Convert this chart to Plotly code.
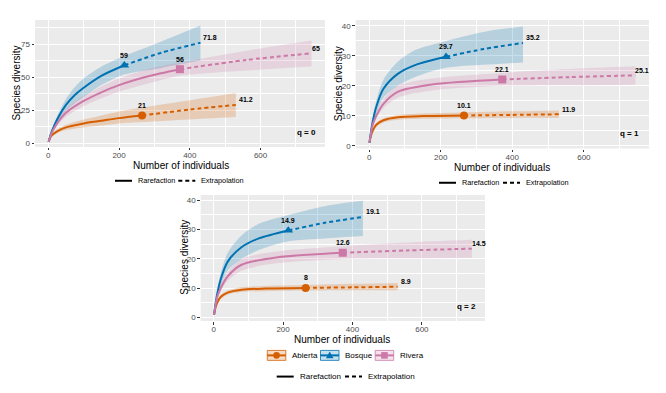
import plotly.graph_objects as go

W, H = 666, 393

groups = ["Abierta", "Bosque", "Rivera"]
colors = {"Abierta": "#D55E00", "Bosque": "#0072B2", "Rivera": "#CC79A7"}
band_colors = {"Abierta": "rgba(213,94,0,0.22)", "Bosque": "rgba(0,114,178,0.22)",
               "Rivera": "rgba(204,121,167,0.22)"}
symbols = {"Abierta": "circle", "Bosque": "triangle-up", "Rivera": "square"}

# ---------------- q = 0 ----------------
q0_abierta_rare_x = [1, 5, 10, 25, 50, 100, 150, 200, 265]
q0_abierta_rare_y = [1, 4, 6, 9, 12, 15, 17, 19, 21]
q0_abierta_ext_x = [265, 400, 530]
q0_abierta_ext_y = [21, 25.5, 29]
q0_abierta_lo = [1, 3.5, 5, 7.5, 10, 12, 13.5, 15, 16, 18, 19.8]
q0_abierta_hi = [1, 4.5, 7, 10.5, 14, 18, 21, 24, 27, 32.5, 38]

q0_bosque_rare_x = [1, 5, 10, 25, 50, 75, 100, 150, 215]
q0_bosque_rare_y = [1, 5, 9, 18, 29, 36.5, 42, 51, 59]
q0_bosque_ext_x = [215, 320, 430]
q0_bosque_ext_y = [59, 68.5, 76]
q0_bosque_lo = [1, 4.5, 8, 15.5, 24.5, 30.5, 35, 44, 52, 57, 62.5]
q0_bosque_hi = [1, 5.5, 10, 20.5, 33.5, 42.5, 49, 58, 66, 77, 89]

q0_rivera_rare_x = [1, 5, 10, 25, 50, 100, 150, 200, 280, 372]
q0_rivera_rare_y = [1, 4.5, 8, 15, 23, 32, 38.5, 44, 50.5, 56]
q0_rivera_ext_x = [372, 560, 744]
q0_rivera_ext_y = [56, 63, 68]
q0_rivera_lo = [1, 4, 7, 13, 20, 28, 34, 39, 45, 51, 55, 58]
q0_rivera_hi = [1, 5, 9, 17, 26, 36, 43, 49, 56, 61, 70, 77.7]

# ---------------- q = 1 ----------------
q1_abierta_rare_x = [1, 5, 10, 20, 40, 80, 150, 265]
q1_abierta_rare_y = [1, 3.3, 5, 7, 8.5, 9.5, 9.9, 10.1]
q1_abierta_ext_x = [265, 400, 530]
q1_abierta_ext_y = [10.1, 10.3, 10.5]
q1_abierta_lo = [1, 3, 4.5, 6.3, 7.8, 8.7, 9, 9.2, 9.3, 9.3]
q1_abierta_hi = [1, 3.6, 5.5, 7.7, 9.2, 10.3, 10.8, 11.1, 11.5, 11.8]

q1_bosque_rare_x = [1, 5, 10, 20, 40, 80, 130, 215]
q1_bosque_rare_y = [1, 4.5, 8, 13, 19, 24, 27, 29.7]
q1_bosque_ext_x = [215, 320, 430]
q1_bosque_ext_y = [29.7, 32.3, 34.3]
q1_bosque_lo = [1, 4, 7, 11, 16, 20, 23, 26, 27, 27.8]
q1_bosque_hi = [1, 5, 9, 15, 22, 28, 32, 35, 38, 39.8]

q1_rivera_rare_x = [1, 5, 10, 20, 40, 80, 180, 372]
q1_rivera_rare_y = [1, 4, 7, 10, 14, 18, 20.5, 22.1]
q1_rivera_ext_x = [372, 560, 744]
q1_rivera_ext_y = [22.1, 22.9, 23.5]
q1_rivera_lo = [1, 3.6, 6, 9, 12.5, 16, 18.5, 20, 20.2, 20.4]
q1_rivera_hi = [1, 4.4, 8, 11.5, 15.5, 20, 22.5, 24.3, 25.6, 26.5]

# ---------------- q = 2 ----------------
q2_abierta_rare_x = [1, 5, 10, 20, 40, 80, 150, 265]
q2_abierta_rare_y = [1, 3.3, 5, 7, 8.5, 9.5, 9.9, 10.1]
q2_abierta_ext_x = [265, 400, 530]
q2_abierta_ext_y = [10.1, 10.3, 10.5]
q2_abierta_lo = [1, 3, 4.5, 6.3, 7.8, 8.7, 9, 9.2, 9.3, 9.3]
q2_abierta_hi = [1, 3.6, 5.5, 7.7, 9.2, 10.3, 10.8, 11.1, 11.5, 11.8]

q2_bosque_rare_x = [1, 5, 10, 20, 40, 80, 130, 215]
q2_bosque_rare_y = [1, 4.5, 8, 13, 19, 24, 27, 29.7]
q2_bosque_ext_x = [215, 320, 430]
q2_bosque_ext_y = [29.7, 32.3, 34.3]
q2_bosque_lo = [1, 4, 7, 11, 16, 20, 23, 26, 27, 27.8]
q2_bosque_hi = [1, 5, 9, 15, 22, 28, 32, 35, 38, 39.8]

q2_rivera_rare_x = [1, 5, 10, 20, 40, 80, 180, 372]
q2_rivera_rare_y = [1, 4, 7, 10, 14, 18, 20.5, 22.1]
q2_rivera_ext_x = [372, 560, 744]
q2_rivera_ext_y = [22.1, 22.9, 23.5]
q2_rivera_lo = [1, 3.6, 6, 9, 12.5, 16, 18.5, 20, 20.2, 20.4]
q2_rivera_hi = [1, 4.4, 8, 11.5, 15.5, 20, 22.5, 24.3, 25.6, 26.5]

# labels: (observed, extrapolated end)
q0_labels = {"Abierta": ["21", "41.2"], "Bosque": ["59", "71.8"], "Rivera": ["56", "65"]}
q1_labels = {"Abierta": ["10.1", "11.9"], "Bosque": ["29.7", "35.2"], "Rivera": ["22.1", "25.1"]}
q2_labels = {"Abierta": ["8", "8.9"], "Bosque": ["14.9", "19.1"], "Rivera": ["12.6", "14.5"]}

x_ticks = [0, 200, 400, 600]
q0_y_ticks = [0, 25, 50, 75]
q1_y_ticks = [0, 10, 20, 30, 40]
q2_y_ticks = [0, 10, 20, 30, 40]
panel_titles = ["q = 0", "q = 1", "q = 2"]

data = {
    0: {
        "Abierta": (q0_abierta_rare_x, q0_abierta_rare_y, q0_abierta_ext_x, q0_abierta_ext_y, q0_abierta_lo, q0_abierta_hi),
        "Bosque": (q0_bosque_rare_x, q0_bosque_rare_y, q0_bosque_ext_x, q0_bosque_ext_y, q0_bosque_lo, q0_bosque_hi),
        "Rivera": (q0_rivera_rare_x, q0_rivera_rare_y, q0_rivera_ext_x, q0_rivera_ext_y, q0_rivera_lo, q0_rivera_hi),
    },
    1: {
        "Abierta": (q1_abierta_rare_x, q1_abierta_rare_y, q1_abierta_ext_x, q1_abierta_ext_y, q1_abierta_lo, q1_abierta_hi),
        "Bosque": (q1_bosque_rare_x, q1_bosque_rare_y, q1_bosque_ext_x, q1_bosque_ext_y, q1_bosque_lo, q1_bosque_hi),
        "Rivera": (q1_rivera_rare_x, q1_rivera_rare_y, q1_rivera_ext_x, q1_rivera_ext_y, q1_rivera_lo, q1_rivera_hi),
    },
    2: {
        "Abierta": (q2_abierta_rare_x, q2_abierta_rare_y, q2_abierta_ext_x, q2_abierta_ext_y, q2_abierta_lo, q2_abierta_hi),
        "Bosque": (q2_bosque_rare_x, q2_bosque_rare_y, q2_bosque_ext_x, q2_bosque_ext_y, q2_bosque_lo, q2_bosque_hi),
        "Rivera": (q2_rivera_rare_x, q2_rivera_rare_y, q2_rivera_ext_x, q2_rivera_ext_y, q2_rivera_lo, q2_rivera_hi),
    },
}
labels = {0: q0_labels, 1: q1_labels, 2: q2_labels}
yticks = {0: q0_y_ticks, 1: q1_y_ticks, 2: q2_y_ticks}

# panel geometry in pixels (left, right, top, bottom)
panels_px = {0: (35, 325, 20, 147.7), 1: (355.7, 649, 20, 149.3), 2: (200.7, 485, 196, 322.7)}
y_ranges = {0: [-2.8, 93.3], 1: [-0.93, 42.0], 2: [-1.2, 41.8]}
y_minor = {0: 12.5, 1: 5, 2: 5}
x_range = [-37.5, 782]


def px(x):
    return x / W


def py(y):
    return 1 - y / H


FONT = "Liberation Sans, Arial, sans-serif"
fig = go.Figure()
layout = {}
annotations = []
shapes = []


def paper_text(x, y, text, size, xanchor="center", angle=0, bold=False):
    annotations.append(dict(x=px(x), y=py(y), xref="paper", yref="paper",
                            text=("<b>%s</b>" % text) if bold else text,
                            xanchor=xanchor, yanchor="middle", textangle=angle, showarrow=False,
                            font=dict(family=FONT, size=size, color="black")))


for p in range(3):
    sfx = "" if p == 0 else str(p + 1)
    xa, ya = "x" + sfx, "y" + sfx
    l, r, t, b = panels_px[p]
    axis_common = dict(
        showline=False, zeroline=False, showgrid=True, gridcolor="white", gridwidth=1.1,
        ticks="outside", ticklen=2.5, tickwidth=1, tickcolor="#333333",
        tickfont=dict(family=FONT, size=8, color="#4D4D4D"), fixedrange=True,
    )
    layout["xaxis" + sfx] = dict(
        axis_common, domain=[px(l), px(r)], range=x_range, anchor=ya,
        tickvals=x_ticks, ticktext=[str(v) for v in x_ticks], ticklabelstandoff=-2,
        minor=dict(dtick=100, tick0=0, showgrid=True, gridcolor="white", gridwidth=0.5, ticks=""),
    )
    layout["yaxis" + sfx] = dict(
        axis_common, domain=[py(b), py(t)], range=y_ranges[p], anchor=xa,
        tickvals=yticks[p], ticktext=[str(v) for v in yticks[p]],
        minor=dict(dtick=y_minor[p], tick0=0, showgrid=True, gridcolor="white", gridwidth=0.5, ticks=""),
    )
    shapes.append(dict(type="rect", xref=xa + " domain", yref=ya + " domain", x0=0, x1=1, y0=0, y1=1,
                       fillcolor="#EBEBEB", line=dict(width=0), layer="below"))

    for g in groups:
        rx, ry, ex, ey, lo, hi = data[p][g]
        bx = rx + ex[1:]
        fig.add_trace(go.Scatter(x=bx, y=lo, mode="lines", line=dict(width=0, shape="spline", smoothing=0.8),
                                 xaxis=xa, yaxis=ya, showlegend=False, hoverinfo="skip"))
        fig.add_trace(go.Scatter(x=bx, y=hi, mode="lines", line=dict(width=0, shape="spline", smoothing=0.8),
                                 fill="tonexty", fillcolor=band_colors[g],
                                 xaxis=xa, yaxis=ya, showlegend=False, hoverinfo="skip"))
    for g in groups:
        rx, ry, ex, ey, lo, hi = data[p][g]
        c = colors[g]
        fig.add_trace(go.Scatter(x=rx, y=ry, mode="lines",
                                 line=dict(color=c, width=2, shape="spline", smoothing=0.8),
                                 xaxis=xa, yaxis=ya, showlegend=False))
        fig.add_trace(go.Scatter(x=ex, y=ey, mode="lines",
                                 line=dict(color=c, width=2, dash="4px,3px", shape="spline", smoothing=0.8),
                                 xaxis=xa, yaxis=ya, showlegend=False))
        fig.add_trace(go.Scatter(x=[rx[-1]], y=[ry[-1]], mode="markers",
                                 marker=dict(symbol=symbols[g], color=c, size=8 if g != "Bosque" else 8.5),
                                 xaxis=xa, yaxis=ya, showlegend=False))
        obs_lab, end_lab = labels[p][g]
        annotations.append(dict(x=rx[-1], y=ry[-1], xref=xa, yref=ya, text="<b>%s</b>" % obs_lab,
                                showarrow=False, xanchor="center", yanchor="middle", yshift=10,
                                font=dict(family=FONT, size=7, color="black")))
        annotations.append(dict(x=ex[-1], y=ey[-1], xref=xa, yref=ya, text="<b>%s</b>" % end_lab,
                                showarrow=False, xanchor="left", yanchor="middle",
                                xshift=-2 if g == "Rivera" else 1, yshift=5,
                                font=dict(family=FONT, size=7, color="black")))
    annotations.append(dict(x=0.935, y=0.115, xref=xa + " domain", yref=ya + " domain",
                            text="<b>%s</b>" % panel_titles[p], showarrow=False,
                            xanchor="center", yanchor="middle",
                            font=dict(family=FONT, size=8, color="black")))

# axis titles
ytitle_pos = [(17, 84), (338, 84.6), (185, 259)]
xtitle_pos = [(181, 166.5), (502.5, 168.5), (342.2, 341.5)]
for (xx, yy) in ytitle_pos:
    paper_text(xx, yy, "Species diversity", 10, angle=-90)
for (xx, yy) in xtitle_pos:
    paper_text(xx, yy, "Number of individuals", 10)

# linetype legends
lt_legends = [(115, 178.3, 181.7, 7.3), (439, 503, 183.7, 7.3), (276.7, 345, 378.5, 8)]
for (sx, dx, yy, fs) in lt_legends:
    shapes.append(dict(type="line", xref="paper", yref="paper", x0=px(sx), x1=px(sx + 17), y0=py(yy), y1=py(yy),
                       line=dict(color="black", width=2)))
    shapes.append(dict(type="line", xref="paper", yref="paper", x0=px(dx), x1=px(dx + 17), y0=py(yy), y1=py(yy),
                       line=dict(color="black", width=2, dash="4px,3px")))
    paper_text(sx + 21, yy, "Rarefaction", fs, xanchor="left")
    paper_text(dx + 21, yy, "Extrapolation", fs, xanchor="left")

# colour legend (bottom)
col_keys = {"Abierta": 267.3, "Bosque": 320.5, "Rivera": 375.2}
ky0, ky1 = 352.2, 362.2
for g in groups:
    x0 = col_keys[g]
    x1 = x0 + 18.5
    c = colors[g]
    shapes.append(dict(type="rect", xref="paper", yref="paper", x0=px(x0), x1=px(x1), y0=py(ky1), y1=py(ky0),
                       fillcolor=band_colors[g], line=dict(color=c, width=0.8)))
    ym = (ky0 + ky1) / 2
    shapes.append(dict(type="line", xref="paper", yref="paper", x0=px(x0), x1=px(x1), y0=py(ym), y1=py(ym),
                       line=dict(color=c, width=2)))
    xm = (x0 + x1) / 2
    if g == "Abierta":
        shapes.append(dict(type="circle", xref="paper", yref="paper", x0=px(xm - 3.3), x1=px(xm + 3.3),
                           y0=py(ym + 3.3), y1=py(ym - 3.3), fillcolor=c, line=dict(width=0)))
    elif g == "Bosque":
        path = "M %f %f L %f %f L %f %f Z" % (px(xm - 3.8), py(ym + 3), px(xm + 3.8), py(ym + 3), px(xm), py(ym - 3.8))
        shapes.append(dict(type="path", xref="paper", yref="paper", path=path, fillcolor=c, line=dict(width=0)))
    else:
        shapes.append(dict(type="rect", xref="paper", yref="paper", x0=px(xm - 3.3), x1=px(xm + 3.3),
                           y0=py(ym + 3.3), y1=py(ym - 3.3), fillcolor=c, line=dict(width=0)))
    paper_text(x1 + 4, ym, g, 8, xanchor="left")

fig.update_layout(
    width=W, height=H, margin=dict(l=0, r=0, t=0, b=0),
    paper_bgcolor="white", plot_bgcolor="rgba(0,0,0,0)",
    showlegend=False, annotations=annotations, shapes=shapes, **layout,
)
fig.write_html("out.html", config={"displayModeBar": False},
               post_script="document.body.style.margin='0px';")
